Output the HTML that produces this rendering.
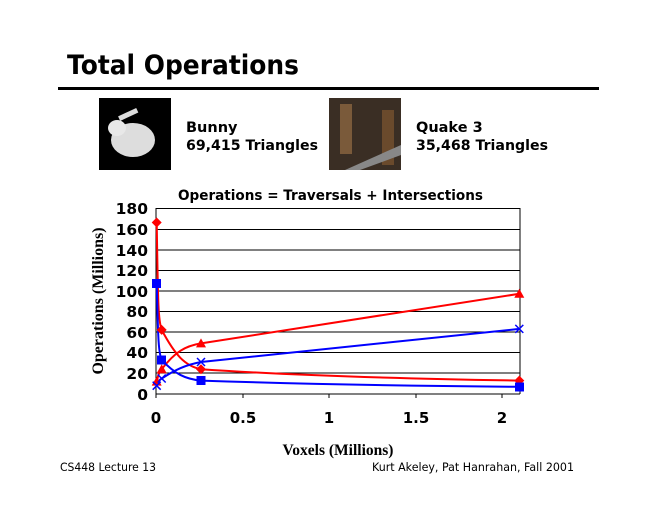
<!DOCTYPE html>
<html><head><style>
body{margin:0;width:660px;height:510px;background:#fff;overflow:hidden;font-family:"DejaVu Sans","Liberation Sans",sans-serif}
</style></head><body>
<svg width="660" height="510" xmlns="http://www.w3.org/2000/svg">
<text x="67" y="74" font-family="DejaVu Sans, sans-serif" font-weight="bold" font-size="27" fill="#000" textLength="232" lengthAdjust="spacingAndGlyphs">Total Operations</text>
<rect x="58" y="87" width="541" height="3" fill="#000"/>
<rect x="99" y="98" width="72" height="72" fill="#000"/>
<ellipse cx="133" cy="140" rx="22" ry="17" fill="#ddd"/>
<ellipse cx="117" cy="128" rx="9" ry="8" fill="#e8e8e8"/>
<rect x="118" y="112" width="20" height="5" fill="#ddd" transform="rotate(-25 128 114)"/>
<rect x="329" y="98" width="72" height="72" fill="#3a2e24"/>
<rect x="340" y="104" width="12" height="50" fill="#7a5a3a"/>
<rect x="382" y="110" width="12" height="55" fill="#6a4a2c"/>
<polygon points="345,170 401,145 401,155 360,170" fill="#888"/>
<g font-family="DejaVu Sans, sans-serif" font-weight="bold" font-size="14.5" fill="#000" lengthAdjust="spacingAndGlyphs">
<text x="186" y="132">Bunny</text>
<text x="186" y="150" textLength="132" lengthAdjust="spacingAndGlyphs">69,415 Triangles</text>
<text x="416" y="132">Quake 3</text>
<text x="416" y="150" textLength="132" lengthAdjust="spacingAndGlyphs">35,468 Triangles</text>
<text x="178" y="200" font-size="14" textLength="305" lengthAdjust="spacingAndGlyphs">Operations = Traversals + Intersections</text>
</g>
<g stroke="#000" stroke-width="1">
<line x1="156" y1="208.5" x2="520" y2="208.5"/>
<line x1="156" y1="229.5" x2="520" y2="229.5"/>
<line x1="156" y1="250" x2="520" y2="250"/>
<line x1="156" y1="270.5" x2="520" y2="270.5"/>
<line x1="156" y1="291" x2="520" y2="291"/>
<line x1="156" y1="311.5" x2="520" y2="311.5"/>
<line x1="156" y1="332" x2="520" y2="332"/>
<line x1="156" y1="352.5" x2="520" y2="352.5"/>
<line x1="156" y1="373" x2="520" y2="373"/>
<line x1="156" y1="394" x2="520" y2="394"/>
<line x1="520" y1="208" x2="520" y2="394"/>
<line x1="156" y1="208" x2="156" y2="398"/>
<line x1="243" y1="394" x2="243" y2="398"/>
<line x1="329" y1="394" x2="329" y2="398"/>
<line x1="416" y1="394" x2="416" y2="398"/>
<line x1="502" y1="394" x2="502" y2="398"/>
</g>
<g font-family="DejaVu Sans, sans-serif" font-weight="bold" font-size="15.5" fill="#000" text-anchor="end">
<text x="148" y="214">180</text><text x="148" y="235">160</text><text x="148" y="256">140</text>
<text x="148" y="276">120</text><text x="148" y="297">100</text><text x="148" y="317">80</text>
<text x="148" y="338">60</text><text x="148" y="358">40</text><text x="148" y="379">20</text>
<text x="148" y="400">0</text>
</g>
<g font-family="DejaVu Sans, sans-serif" font-weight="bold" font-size="15" fill="#000" text-anchor="middle">
<text x="156" y="423">0</text><text x="243" y="423">0.5</text><text x="329" y="423">1</text>
<text x="416" y="423">1.5</text><text x="502" y="423">2</text>
</g>
<text x="338" y="455" text-anchor="middle" font-family="Liberation Serif, serif" font-weight="bold" font-size="15.5">Voxels (Millions)</text>
<text transform="translate(103 301) rotate(-90)" text-anchor="middle" font-family="Liberation Serif, serif" font-weight="bold" font-size="16">Operations (Millions)</text>
<g fill="none" stroke-width="2">
<path d="M156.7,222.5 C158,300 158,320 161.7,329.9 C175,355 185,366 201,369.2 C300,376 420,379 519.3,380.6" stroke="#f00"/>
<path d="M156.7,381.6 C158,376 159,372 161.7,369.2 C175,352 185,346 201,343.4 L519.3,293.8" stroke="#f00"/>
<path d="M156.7,283.4 C158,330 158,352 161.7,359.9 C175,374 185,379 201,380.6 C300,384 420,386 519.3,386.8" stroke="#00f"/>
<path d="M156.7,385.7 C158,382 159,380 161.7,378.5 C175,370 185,365 201,362 L519.3,328.9" stroke="#00f"/>
</g>
<g fill="#f00">
<polygon points="156.7,217.5 161.7,222.5 156.7,227.5 151.7,222.5"/>
<polygon points="161.7,324.9 166.7,329.9 161.7,334.9 156.7,329.9"/>
<polygon points="201,364.2 206,369.2 201,374.2 196,369.2"/>
<polygon points="519.3,375.6 524.3,380.6 519.3,385.6 514.3,380.6"/>
<polygon points="156.7,376.6 161.7,385.6 151.7,385.6"/>
<polygon points="161.7,364.2 166.7,373.2 156.7,373.2"/>
<polygon points="201,338.4 206,347.4 196,347.4"/>
<polygon points="519.3,288.8 524.3,297.8 514.3,297.8"/>
</g>
<g fill="#00f">
<rect x="152" y="279" width="9" height="9"/>
<rect x="157" y="355.5" width="9" height="9"/>
<rect x="196.5" y="376" width="9" height="9"/>
<rect x="515" y="382.5" width="9" height="9"/>
</g>
<g stroke="#00f" stroke-width="1.5">
<path d="M152.7,381.7 l8,8 m0,-8 l-8,8"/>
<path d="M157.7,374.5 l8,8 m0,-8 l-8,8"/>
<path d="M197,358 l8,8 m0,-8 l-8,8"/>
<path d="M515.3,324.9 l8,8 m0,-8 l-8,8"/>
</g>
<g font-family="DejaVu Sans, sans-serif" font-size="11.5" fill="#000">
<text x="60" y="471" textLength="96" lengthAdjust="spacingAndGlyphs">CS448 Lecture 13</text>
<text x="372" y="471" textLength="202" lengthAdjust="spacingAndGlyphs">Kurt Akeley, Pat Hanrahan, Fall 2001</text>
</g>
</svg>
</body></html>
